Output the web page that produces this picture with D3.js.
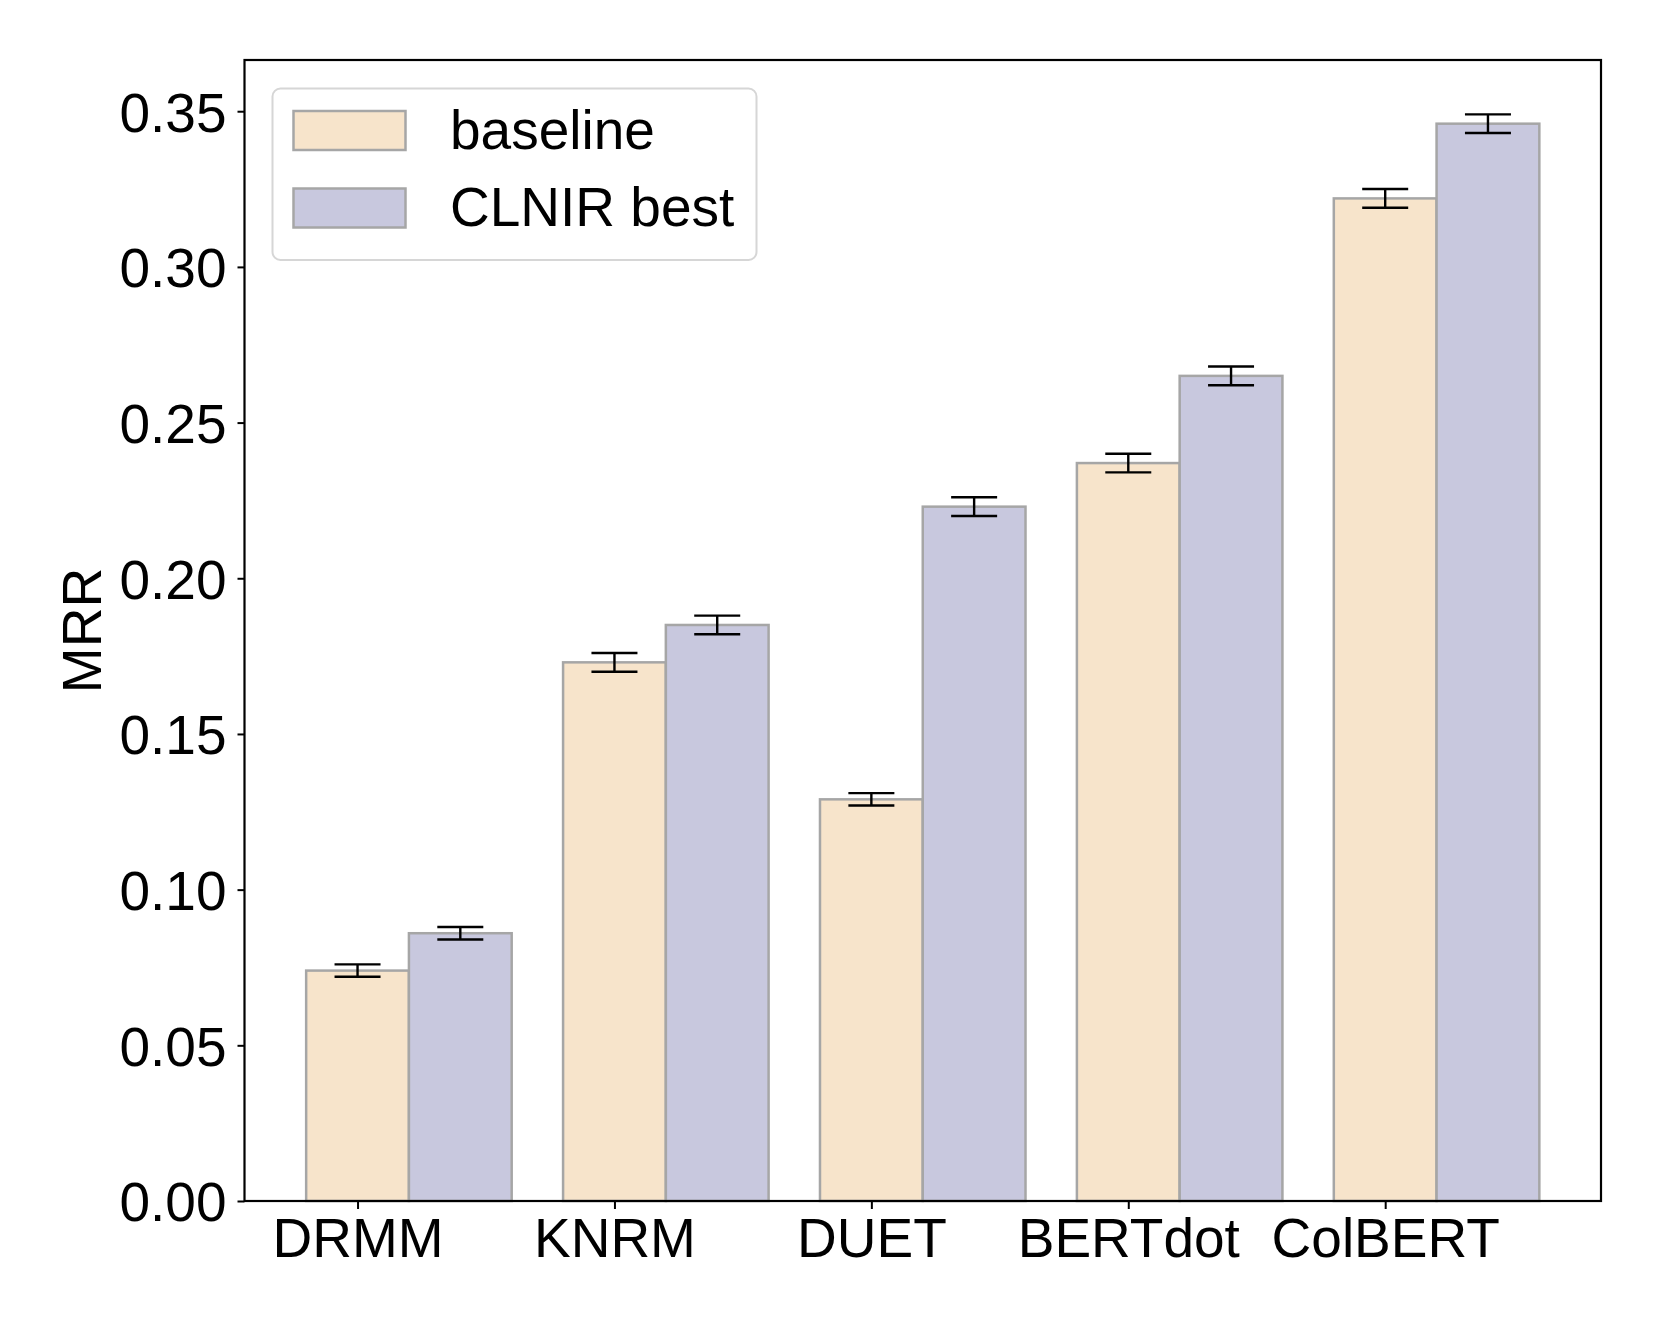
<!DOCTYPE html>
<html>
<head>
<meta charset="utf-8">
<script src="https://cdn.jsdelivr.net/npm/d3@7"></script>
<style>
  html, body { margin: 0; padding: 0; background: #ffffff; }
  svg { display: block; }
  text { font-family: "Liberation Sans", Arial, Helvetica, sans-serif; fill: #000; }
</style>
</head>
<body>
<svg id="chart" width="1661" height="1329"></svg>
<script>
// ---- data ----
const categories = ["DRMM", "KNRM", "DUET", "BERTdot", "ColBERT"];
const seriesNames = ["baseline", "CLNIR best"];
const baselineValues = [0.074, 0.173, 0.129, 0.237, 0.322];
const baselineErrors = [0.002, 0.003, 0.002, 0.003, 0.003];
const clnirValues = [0.086, 0.185, 0.223, 0.265, 0.346];
const clnirErrors = [0.002, 0.003, 0.003, 0.003, 0.003];
const yTickValues = [0.00, 0.05, 0.10, 0.15, 0.20, 0.25, 0.30, 0.35];
const yLabel = "MRR";

// ---- layout ----
const W = 1661, H = 1329;
const plot = { left: 244.5, right: 1601, top: 60, bottom: 1201 };
const barWidth = 0.4;
const colors = ["#f7e4cb", "#c8c8de"];
const edgeColor = "#a6a6a6";
const fontSize = 55;

const svg = d3.select("#chart");
svg.append("rect").attr("width", W).attr("height", H).attr("fill", "#fff");

const yMaxData = d3.max([...baselineValues.map((v, i) => v + baselineErrors[i]),
                         ...clnirValues.map((v, i) => v + clnirErrors[i])]);
const x = d3.scaleLinear().domain([-0.44, categories.length - 1 + 0.84]).range([plot.left, plot.right]);
const y = d3.scaleLinear().domain([0, yMaxData * 1.05]).range([plot.bottom, plot.top]);

const series = [
  { name: seriesNames[0], values: baselineValues, errors: baselineErrors, offset: 0, color: colors[0] },
  { name: seriesNames[1], values: clnirValues, errors: clnirErrors, offset: barWidth, color: colors[1] }
];

// bars
series.forEach(s => {
  const g = svg.append("g");
  g.selectAll("rect").data(s.values).enter().append("rect")
    .attr("x", (d, i) => x(i + s.offset - barWidth / 2))
    .attr("width", (d, i) => x(i + s.offset + barWidth / 2) - x(i + s.offset - barWidth / 2))
    .attr("y", d => y(d))
    .attr("height", d => y(0) - y(d))
    .attr("fill", s.color)
    .attr("stroke", edgeColor)
    .attr("stroke-width", 2.5);
});

// error bars
const capHalf = 23;
series.forEach(s => {
  const g = svg.append("g").attr("stroke", "#000").attr("stroke-width", 2.4);
  s.values.forEach((v, i) => {
    const cx = x(i + s.offset);
    const lo = y(v - s.errors[i]), hi = y(v + s.errors[i]);
    g.append("line").attr("x1", cx).attr("x2", cx).attr("y1", lo).attr("y2", hi);
    g.append("line").attr("x1", cx - capHalf).attr("x2", cx + capHalf).attr("y1", lo).attr("y2", lo);
    g.append("line").attr("x1", cx - capHalf).attr("x2", cx + capHalf).attr("y1", hi).attr("y2", hi);
  });
});

// axes
const yAxis = d3.axisLeft(y).tickValues(yTickValues).tickFormat(d3.format(".2f")).tickSize(7).tickPadding(11);
const gy = svg.append("g").attr("transform", `translate(${plot.left},0)`).call(yAxis);
gy.select(".domain").remove();
gy.selectAll(".tick line").attr("stroke", "#000").attr("stroke-width", 2);
gy.selectAll(".tick text").attr("font-size", fontSize).attr("font-family", "Liberation Sans, Arial, sans-serif").attr("fill", "#000").attr("dy", "0.36em");

const xAxis = d3.axisBottom(x).tickValues(d3.range(categories.length)).tickFormat(i => categories[i]).tickSize(8).tickPadding(9);
const gx = svg.append("g").attr("transform", `translate(0,${plot.bottom})`).call(xAxis);
gx.select(".domain").remove();
gx.selectAll(".tick line").attr("stroke", "#000").attr("stroke-width", 2);
gx.selectAll(".tick text").attr("font-size", fontSize).attr("font-family", "Liberation Sans, Arial, sans-serif").attr("fill", "#000").attr("dy", "0.71em");

// frame
svg.append("rect")
  .attr("x", plot.left).attr("y", plot.top)
  .attr("width", plot.right - plot.left).attr("height", plot.bottom - plot.top)
  .attr("fill", "none").attr("stroke", "#000").attr("stroke-width", 2.2);

// y label
svg.append("text")
  .attr("transform", `translate(101,${(plot.top + plot.bottom) / 2}) rotate(-90)`)
  .attr("text-anchor", "middle")
  .attr("font-size", fontSize)
  .text(yLabel);

// legend
const lg = svg.append("g");
lg.append("rect").attr("x", 272.5).attr("y", 88.5).attr("width", 484).attr("height", 171.5)
  .attr("rx", 8).attr("ry", 8).attr("fill", "#fff").attr("fill-opacity", 0.8)
  .attr("stroke", "#d6d6d6").attr("stroke-width", 2);
series.forEach((s, k) => {
  const yy = 111 + k * 77.5;
  lg.append("rect").attr("x", 293.5).attr("y", yy).attr("width", 112).attr("height", 39)
    .attr("fill", s.color).attr("stroke", edgeColor).attr("stroke-width", 2.5);
  lg.append("text").attr("x", 450).attr("y", yy + 37.5).attr("font-size", fontSize).text(s.name);
});
</script>
</body>
</html>
